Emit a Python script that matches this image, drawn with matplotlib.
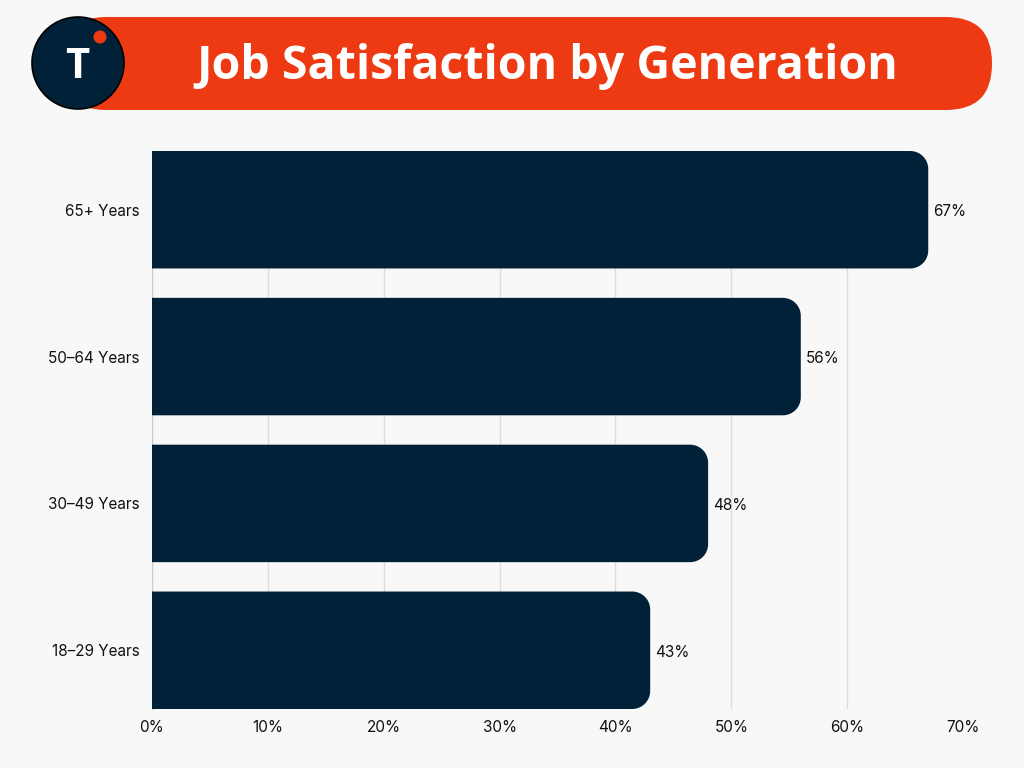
import numpy as np
import matplotlib.pyplot as plt
from matplotlib.patches import FancyBboxPatch, Circle, PathPatch
from matplotlib.path import Path

categories = ['18\u201329 Years', '30\u201349 Years', '50\u201364 Years', '65+ Years']
values = [43, 48, 56, 67]
xticks = [0, 10, 20, 30, 40, 50, 60, 70]
title = 'Job Satisfaction by Generation'

bg = '#f8f8f8'
navy = '#012139'
orange = '#ee3a12'

plt.rcParams['font.family'] = ['Inter', 'DejaVu Sans']

fig = plt.figure(figsize=(10.24, 7.68), dpi=100, facecolor=bg)

# header banner
hdr = fig.add_axes([0, 0, 1, 1], facecolor='none')
hdr.set_xlim(0, 1024)
hdr.set_ylim(768, 0)
hdr.axis('off')
hdr.add_patch(FancyBboxPatch((60, 17), 932, 93, boxstyle='round,pad=0,rounding_size=46',
                             fc=orange, ec='none'))
hdr.add_patch(Circle((78, 63), 46, fc=navy, ec='black', lw=1.2, zorder=3))
hdr.add_patch(Circle((100, 37), 6.5, fc=orange, ec='none', zorder=4))
hdr.text(77, 68, 'T', color='white', fontsize=30, fontweight='bold',
         ha='center', va='center', zorder=5, family=['Open Sans', 'DejaVu Sans'])
hdr.text(547, 67, title, color='white', fontsize=33.5, fontweight='bold',
         ha='center', va='center', family=['Open Sans', 'DejaVu Sans'])

ax = fig.add_axes([152 / 1024, 1 - 709 / 768, (963 - 152) / 1024, (709 - 151) / 768])
ax.set_facecolor(bg)
y = np.arange(len(categories))
bars = ax.barh(y, values, height=0.8, color=navy)
ax.set_xlim(0, 70)
ax.set_ylim(-0.4, 3.4)

# replace with right-rounded bars
rx = 18 / (811 / 70)
ry = 18 / 147
k = 0.5523
for b in bars:
    x0, y0 = b.get_x(), b.get_y()
    w, h = b.get_width(), b.get_height()
    x1, y1 = x0 + w, y0 + h
    verts = [(x0, y0), (x1 - rx, y0),
             (x1 - rx + k * rx, y0), (x1, y0 + ry - k * ry), (x1, y0 + ry),
             (x1, y1 - ry),
             (x1, y1 - ry + k * ry), (x1 - rx + k * rx, y1), (x1 - rx, y1),
             (x0, y1), (x0, y0)]
    codes = [Path.MOVETO, Path.LINETO, Path.CURVE4, Path.CURVE4, Path.CURVE4,
             Path.LINETO, Path.CURVE4, Path.CURVE4, Path.CURVE4,
             Path.LINETO, Path.CLOSEPOLY]
    ax.add_patch(PathPatch(Path(verts, codes), fc=navy, ec='none', zorder=3))
    b.set_visible(False)
    ax.text(x1 + 0.45, y0 + h / 2 - 0.015, f'{w:.0f}%', va='center', ha='left', fontsize=11, color='#111111')

ax.set_yticks(y)
ax.set_yticklabels(categories, fontsize=11, color='#111111')
ax.set_xticks(xticks)
ax.set_xticklabels([f'{t}%' for t in xticks], fontsize=11, color='#111111')
ax.tick_params(length=0, axis='y', pad=9)
ax.tick_params(length=0, axis='x', pad=8)
ax.grid(axis='x', color='#dddddd', lw=1)
ax.set_axisbelow(True)
for s in ['top', 'right', 'bottom']:
    ax.spines[s].set_visible(False)
ax.spines['left'].set_color('#cccccc')

fig.savefig('out.png', dpi=100, facecolor=bg)
